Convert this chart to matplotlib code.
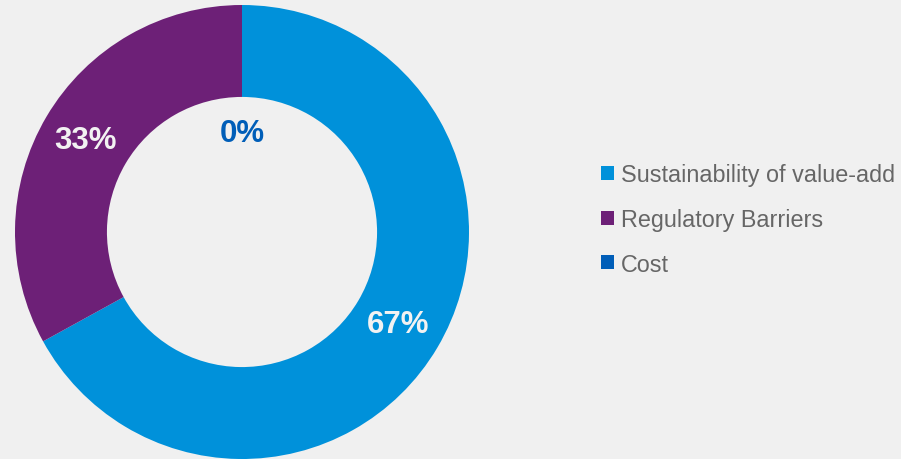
import numpy as np
import matplotlib.pyplot as plt

# --- Data ---
categories = ["Sustainability of value-add", "Regulatory Barriers", "Cost"]
shares = [67, 33, 0]
colors = ["#0091DA", "#6D2077", "#005EB8"]
label_colors = ["#F2F2F2", "#F2F2F2", "#005EB8"]

bg = "#F0F0F0"

fig = plt.figure(figsize=(9.01, 4.6), dpi=100, facecolor=bg)
# axes in pixel units so the ring sits where we want it
ax = fig.add_axes([0, 0, 1, 1])

cx, cy, R = 242, 227, 227
ring = 0.405

wedges, _ = ax.pie(shares, colors=colors, startangle=90, counterclock=False,
                   center=(cx, cy), radius=R, wedgeprops=dict(width=R * ring, linewidth=0),
                   frame=True)
ax.set_xlim(0, 901)
ax.set_ylim(0, 460)
ax.set_aspect("equal")
ax.axis("off")

# percentage labels placed along each wedge's mid angle
for w, val, tc in zip(wedges, shares, label_colors):
    mid = np.deg2rad((w.theta1 + w.theta2) / 2)
    r = R * 0.8 if val > 0 else 99
    ax.text(cx + r * np.cos(mid), cy + r * np.sin(mid), f"{val}%",
            ha="center", va="center", fontsize=22.5, fontweight="bold",
            color=tc, family="Liberation Sans")

leg = fig.legend(wedges, categories, loc="center left", bbox_to_anchor=(0.667, 0.521),
                 frameon=False, handlelength=0.55, handleheight=0.55, handletextpad=0.3,
                 labelspacing=0.93, borderaxespad=0, borderpad=0,
                 prop=dict(family="Liberation Sans", size=16.8))
for t in leg.get_texts():
    t.set_color("#666666")

fig.savefig("out.png", dpi=100, facecolor=bg)
